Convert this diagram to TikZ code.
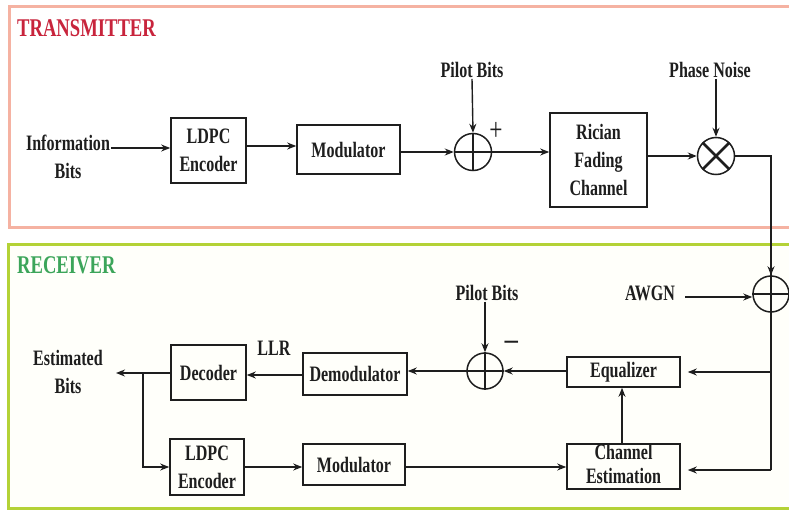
\documentclass[tikz,border=0pt]{standalone}
\usepackage{fontspec}
\setmainfont{Liberation Serif}[FakeStretch=0.73]
\usetikzlibrary{arrows.meta,calc}
\definecolor{ink}{HTML}{1E1E1E}
\definecolor{txframe}{HTML}{F5B2A2}
\definecolor{rxframe}{HTML}{B4D236}
\definecolor{txtitle}{HTML}{C8243C}
\definecolor{rxtitle}{HTML}{3CA55A}
\definecolor{rxfill}{HTML}{FFFFFA}
\newcommand\lbl{\bfseries\fontsize{22}{28}\selectfont}
\newcommand\ttl{\bfseries\fontsize{25.5}{26}\selectfont}
\tikzset{
  box/.style={draw=ink, line width=1.6pt, inner sep=0pt, align=center, font=\lbl, text=ink},
  lab/.style={inner sep=1pt, align=center, font=\lbl, text=ink},
  arr/.style={draw=ink, line width=1.4pt, -{Stealth[length=9pt,width=7pt]}},
  ln/.style={draw=ink, line width=1.4pt},
  circ/.style={circle, draw=ink, line width=1.5pt, minimum size=37pt, inner sep=0pt},
  bar/.style={draw=ink, line width=2.6pt},
  frame/.style={line width=3pt},
  sign/.style={inner sep=0pt, font=\fontsize{32}{32}\selectfont, text=ink},
}
\begin{document}
\begin{tikzpicture}[x=1pt,y=-1pt]
\useasboundingbox (0,0) rectangle (789,511);
\clip (0,0) rectangle (789,511);
\fill[white] (0,0) rectangle (789,511);
% frames
\draw[frame, draw=txframe] (9,7) rectangle (800,227);
\draw[frame, draw=rxframe, fill=rxfill] (8,244) rectangle (800,508);
\node[anchor=base west, inner sep=0pt, font=\ttl, text=txtitle] (ttx) at (17,36.5) {TRANSMITTER};
\node[anchor=base west, inner sep=0pt, font=\ttl, text=rxtitle] (trx) at (17,273) {RECEIVER};

% ---------- transmitter ----------
\node[lab] (info) at (68,157) {Information\\Bits};
\node[box, minimum width=75pt, minimum height=65pt] (enc1) at (208.5,150.5) {LDPC\\Encoder};
\node[box, minimum width=103pt, minimum height=49pt] (mod1) at (348.5,149.5) {Modulator};
\node[circ] (sum1) at (473,152) {};
\draw[bar] (sum1.north) -- (sum1.south) (sum1.west) -- (sum1.east);
\node[lab] (pil1) at (472,70) {Pilot Bits};
\node[sign] (plus) at (496,131) {+};
\node[box, minimum width=97pt, minimum height=94pt] (ric) at (598.5,160) {Rician\\Fading\\Channel};
\node[circ] (mul) at (716,156) {};
\draw[bar] (mul.north east) -- (mul.south west) (mul.north west) -- (mul.south east);
\node[lab] (pha) at (710,70) {Phase Noise};

\draw[arr] (info.east |- 0,148) -- (enc1.west |- 0,148);
\draw[arr] (enc1.east |- 0,146) -- (mod1.west |- 0,146);
\draw[arr] (mod1.east |- sum1) -- (sum1.west);
\draw[arr] (sum1.east) -- (sum1.east -| ric.west);
\draw[arr] (pil1.south) -- (sum1.north);
\draw[arr] (ric.east |- mul) -- (mul.west);
\draw[arr] (pha.south -| mul) -- (mul.north);

% ---------- receiver ----------
\node[circ, minimum size=36pt] (add2) at (771,294) {};
\draw[bar] (add2.north) -- (add2.south) (add2.west) -- (add2.east);
\node[lab] (awgn) at (650,293) {AWGN};
\node[box, minimum width=113pt, minimum height=30pt] (equ) at (623.5,372) {Equalizer};
\node[draw=ink, line width=1.6pt, minimum width=113pt, minimum height=45pt, inner sep=0pt] (che) at (623.5,466.5) {};
\node[lab, font=\bfseries\fontsize{22}{24}\selectfont] (chet) at (623.5,464) {Channel\\Estimation};
\node[circ, minimum size=36pt] (sub) at (485,371) {};
\draw[bar] (sub.north) -- (sub.south) (sub.west) -- (sub.east);
\node[lab] (pil2) at (487,293) {Pilot Bits};
\node[inner sep=0pt, font=\fontsize{40}{40}\selectfont, text=ink] (minus) at (512,348) {−};
\node[box, minimum width=104pt, minimum height=42pt] (dem) at (355,374) {Demodulator};
\node[lab] (llr) at (274,348) {LLR};
\node[box, minimum width=75pt, minimum height=55pt] (dec) at (208.5,372.5) {Decoder};
\node[lab] (est) at (68,372) {Estimated\\Bits};
\node[box, minimum width=74pt, minimum height=56pt] (enc2) at (207,467) {LDPC\\Encoder};
\node[box, minimum width=102pt, minimum height=41pt] (mod2) at (354,464.5) {Modulator};

\coordinate (split1) at (771,372);
\coordinate (split2) at (771,470);
\coordinate (estout) at (116,373);
\coordinate (br) at (143,373);
\coordinate (awgnout) at (685,297);

\draw[ln] (mul.east) -| (add2.north);
\draw[arr] (mul.east -| add2) -- (add2.north);
\draw[arr] (awgnout) -- (add2.west |- awgnout);
\draw[ln] (add2.south) -- (split2);
\draw[arr, shorten >=7pt] (split1) -- (split1 -| equ.east);
\draw[arr, shorten >=7pt] (split2) -- (split2 -| che.east);
\draw[arr] (che.north -| 622,0) -- (equ.south -| 622,0);
\draw[arr] (equ.west |- sub) -- (sub.east);
\draw[arr] (pil2.south -| sub) -- (sub.north);
\draw[arr] (sub.west) -- (sub.west -| dem.east);
\draw[arr] (dem.west |- 0,375) -- (dec.east |- 0,375);
\draw[arr] (dec.west |- estout) -- (estout);
\draw[arr] (br) |- (enc2.west);
\draw[arr] (enc2.east) -- (enc2.east -| mod2.west);
\draw[arr] (mod2.east |- enc2) -- (che.west |- enc2);
\end{tikzpicture}
\end{document}
